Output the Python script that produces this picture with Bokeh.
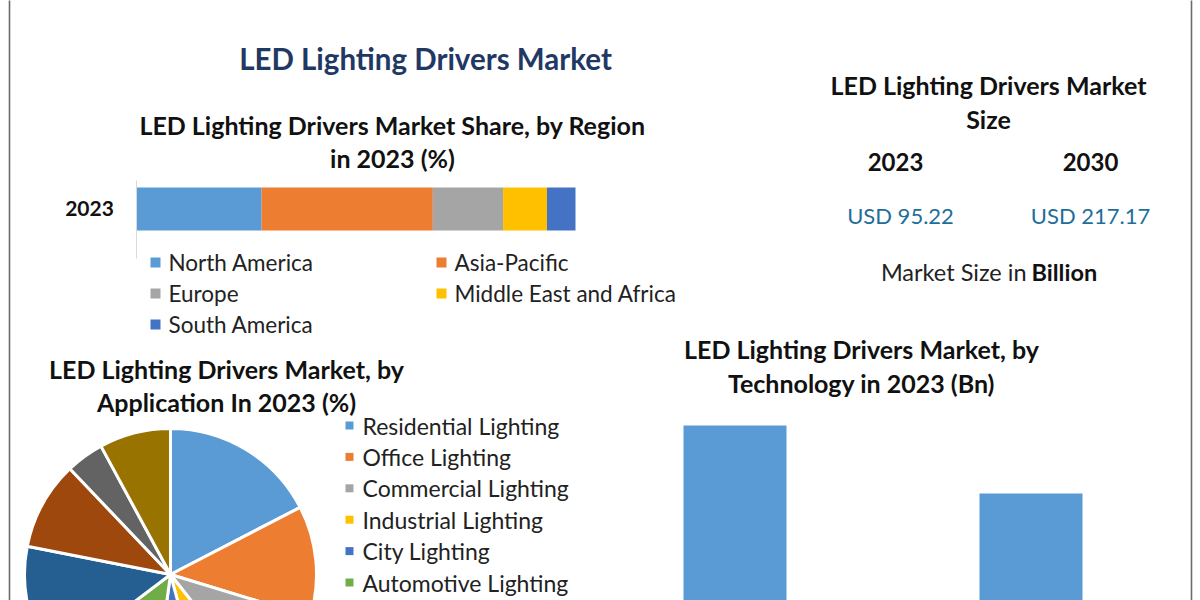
import math
from bokeh.plotting import figure
from bokeh.models import Range1d
from bokeh.core.properties import value
from bokeh.embed import file_html
from bokeh.resources import INLINE

# ---------------- data ----------------
regions = ["North America", "Asia-Pacific", "Europe", "Middle East and Africa", "South America"]
region_share = [28.5, 39.0, 16.0, 10.0, 6.5]
region_colors = ["#5B9BD5", "#ED7D31", "#A5A5A5", "#FFC000", "#4472C4"]

applications = ["Residential Lighting", "Office Lighting", "Commercial Lighting",
                "Industrial Lighting", "City Lighting", "Automotive Lighting",
                "Horticulture Lighting", "Healthcare Lighting", "Hospitality Lighting", "Others"]
application_share = [17.4, 12.3, 9.7, 6.4, 6.4, 12.5, 13.4, 9.8, 4.2, 7.9]
application_colors = ["#5B9BD5", "#ED7D31", "#A5A5A5", "#FFC000", "#4472C4",
                      "#70AD47", "#255E91", "#9E480E", "#636363", "#997300"]
legend_shown = 6

technologies = ["Constant Current", "Constant Voltage"]
technology_bn = [55.4, 39.8]

size_years = ["2023", "2030"]
size_values = ["USD 95.22", "USD 217.17"]

# ---------------- canvas ----------------
W, H = 1200, 600
FONT = "Lato"


def cx(sx):
    return sx


def cy(sy):
    return H - sy


p = figure(width=W, height=H, output_backend="svg", toolbar_location=None,
           x_range=Range1d(0, W), y_range=Range1d(0, H), min_border=0,
           background_fill_color="white", border_fill_color="white")
p.axis.visible = False
p.grid.visible = False
p.outline_line_color = None

# border lines
p.segment(x0=[cx(9), cx(1191)], y0=[cy(-5), cy(-5)], x1=[cx(9), cx(1191)], y1=[cy(605), cy(605)],
          line_color="#6b6b6b", line_width=1.6)


def txt(x, y, s, size, bold=False, color="#111111", align="center"):
    p.text(x=[cx(x)], y=[cy(y)], text=[s], text_font=value(FONT),
           text_font_size=f"{size}px", text_font_style="bold" if bold else "normal",
           text_color=color, text_align=align, text_baseline="middle")


SEC = 25  # section title size

# ---------------- titles ----------------
txt(425, 58, "LED Lighting Drivers Market", 29.5, True, "#1F3864")
txt(392, 124, "LED Lighting Drivers Market Share, by Region", SEC, True)
txt(392, 157, "in 2023 (%)", SEC, True)

# ---------------- stacked region bar ----------------
BAR_L, BAR_R = cx(136), cx(575)
total = sum(region_share)
px_per = (BAR_R - BAR_L) / total
p.extra_x_ranges = {"share": Range1d(-BAR_L / px_per, (W - BAR_L) / px_per)}
lefts, rights = [], []
acc = 0
for v in region_share:
    lefts.append(acc)
    acc += v
    rights.append(acc)
p.hbar(y=[cy(208.5)] * len(regions), left=lefts, right=rights, height=43,
       fill_color=region_colors, line_color=None, x_range_name="share")
p.segment(x0=[cx(136)], y0=[cy(180)], x1=[cx(136)], y1=[cy(258)], line_color="#d9d9d9", line_width=1)
txt(89, 208, "2023", 21, True)

# region legend
leg_x = [155, 441]
leg_y = [262, 293, 324]
for i, (name, col) in enumerate(zip(regions, region_colors)):
    sx = leg_x[i % 2]
    sy = leg_y[i // 2]
    p.rect(x=[cx(sx)], y=[cy(sy)], width=10, height=10, fill_color=col, line_color=None)
    txt(sx + 13, sy, name, 22.5, False, "#222222", "left")

# ---------------- market size panel ----------------
txt(988, 84, "LED Lighting Drivers Market", SEC, True)
txt(988, 118, "Size", SEC, True)
size_x = [895, 1090]
for i, (yr, val) in enumerate(zip(size_years, size_values)):
    txt(size_x[i], 161, yr, 24, True)
    txt(size_x[i] + 5 * (1 - i), 215, val, 22, False, "#1F6E99")
txt(1026, 271, "Market Size in", 23.5, False, "#222222", "right")
txt(1031, 271, "Billion", 23.5, True, "#111111", "left")

# ---------------- pie ----------------
txt(226, 368, "LED Lighting Drivers Market, by", SEC, True)
txt(226, 401, "Application In 2023 (%)", SEC, True)
tot = sum(application_share)
starts, ends = [], []
acc = 0.0
for v in application_share:
    starts.append(math.pi / 2 - 2 * math.pi * acc / tot)
    acc += v
    ends.append(math.pi / 2 - 2 * math.pi * acc / tot)
p.wedge(x=cx(170), y=cy(574), radius=146, start_angle=starts, end_angle=ends,
        direction="clock", fill_color=application_colors, line_color="white", line_width=3)

for i in range(legend_shown):
    sy = 425 + i * 31.4
    p.rect(x=[cx(349)], y=[cy(sy)], width=8, height=8, fill_color=application_colors[i], line_color=None)
    txt(362, sy, applications[i], 23, False, "#222222", "left")

# ---------------- technology bars ----------------
txt(861, 348, "LED Lighting Drivers Market, by", SEC, True)
txt(861, 382, "Technology in 2023 (Bn)", SEC, True)
BASE_Y = cy(666.6)
PX_PER_BN = (666.6 - 425) / technology_bn[0]
p.extra_y_ranges = {"bn": Range1d(-BASE_Y / PX_PER_BN, (H - BASE_Y) / PX_PER_BN)}
X0 = cx(734.5)
STEP = 296.0
p.extra_x_ranges["tech"] = Range1d(-X0 / STEP, (W - X0) / STEP)
p.vbar(x=list(range(len(technologies))), top=technology_bn, bottom=0, width=103 / STEP,
       fill_color="#5B9BD5", line_color=None, x_range_name="tech", y_range_name="bn")

open("out.html", "w").write(file_html(p, INLINE))
